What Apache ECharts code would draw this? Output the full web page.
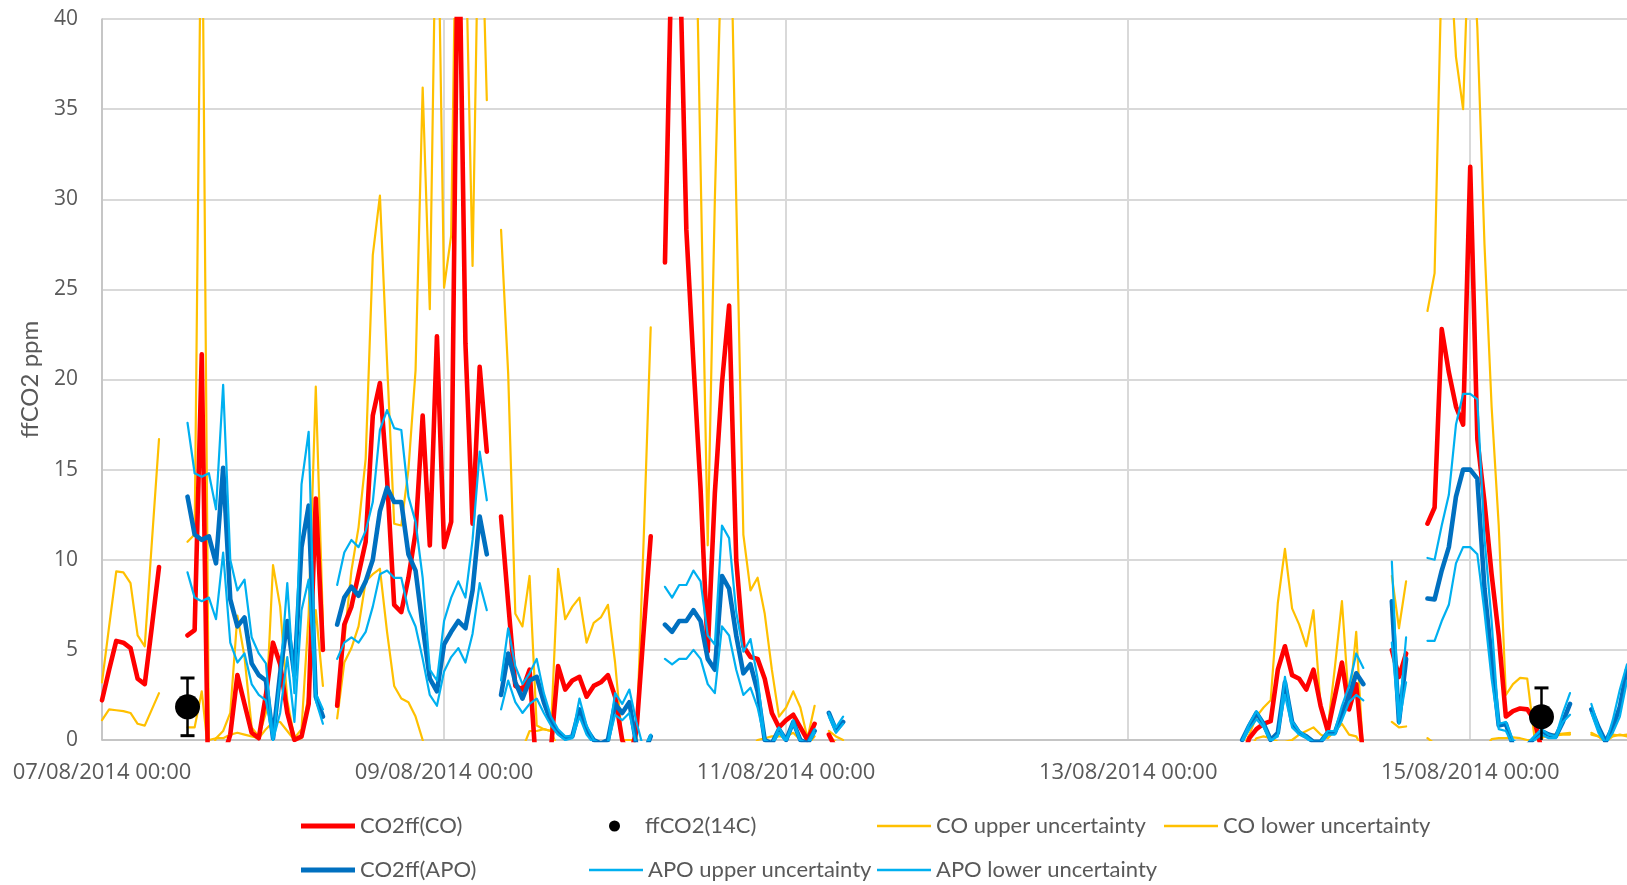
<!DOCTYPE html>
<html>
<head>
<meta charset="utf-8">
<title>ffCO2</title>
<script src="https://cdn.jsdelivr.net/npm/echarts@6/dist/echarts.min.js"></script>
<style>
  html, body { margin: 0; padding: 0; background: #fff; }
  #chart { width: 1627px; height: 885px; }
</style>
</head>
<body>
<div id="chart"></div>
<script>
const _ = null;

// hourly values from 07/08/2014 00:00, one row per day (24 h)
const co2ffCO = [
  2.2, 3.9, 5.5, 5.4, 5.1, 3.4, 3.1, 6.3, 9.6, _, _, _, 5.8, 6.1, 21.4, -5, -3, -1, 0.3, 3.6, 2.0, 0.4, 0.1, 2.5,
  5.4, 4.2, 1.5, 0, 0.2, 2, 13.4, 5.0, _, 1.9, 6.4, 7.4, 9.2, 11, 18, 19.8, 14.5, 7.5, 7.1, 9, 11.5, 18, 10.8, 22.4,
  10.7, 12.1, 48, 22, 12, 20.7, 16, _, 12.4, 7.6, 3.0, 2.8, 3.9, -2, -2, -0.5, 4.1, 2.8, 3.3, 3.5, 2.4, 3.0, 3.2, 3.6,
  2.4, 0, -1, 0.5, 6, 11.3, _, 26.5, 45, 45, 28.3, 20.9, 13.9, 4.9, 13.7, 19.8, 24.1, 10, 5.2, 4.6, 4.5, 3.4, 1.5, 0.7,
  1.1, 1.4, 0.7, 0, 0.9, _, 0.3, -0.5, _, _, _, _, _, _, _, _, _, _, _, _, _, _, _, _,
  _, _, _, _, _, _, _, _, _, _, _, _, _, _, _, _, _, _, _, _, _, _, _, _,
  _, _, _, _, _, _, _, _, _, _, _, _, _, _, _, _, -1, 0.1, 0.6, 0.9, 1.05, 3.9, 5.2, 3.6,
  3.4, 2.8, 3.9, 1.9, 0.5, 2.4, 4.3, 1.7, 3.1, -1, _, _, _, 5.0, 3.5, 4.8, _, _, 12.0, 12.9, 22.8, 20.4, 18.5, 17.5,
  31.8, 16.7, 13.2, 9.2, 5.8, 1.3, 1.6, 1.75, 1.7, 1.1, -0.5, _, _, _, _, _, _, _, _, _, _, _, _
];

const co2ffAPO = [
  _, _, _, _, _, _, _, _, _, _, _, _, 13.5, 11.4, 11.1, 11.3, 9.8, 15.1, 7.8, 6.3, 6.8, 4.25, 3.6, 3.3,
  0.1, 3.7, 6.6, 3.6, 10.7, 13, 2.4, 1.3, _, 6.4, 7.9, 8.5, 8.0, 8.8, 10, 12.7, 14, 13.2, 13.2, 10.3, 9.4, 6.3, 3.4, 2.7,
  5.3, 6.0, 6.6, 6.2, 8.3, 12.4, 10.3, _, 2.5, 4.8, 3.2, 2.3, 3.3, 3.5, 2.1, 1.0, 0.4, 0.1, 0.2, 1.7, 0.6, 0, -0.2, 0,
  2, 1.5, 2.1, -0.3, -0.8, 0.2, _, 6.4, 6.0, 6.6, 6.6, 7.2, 6.6, 4.5, 3.9, 9.1, 8.4, 5.8, 3.7, 4.2, 2.7, 0, -0.2, 0.6,
  0, 1, 0, -0.2, 0.5, _, 1.5, 0.55, 1.0, _, _, _, _, _, _, _, _, _, _, _, _, _, _, _,
  _, _, _, _, _, _, _, _, _, _, _, _, _, _, _, _, _, _, _, _, _, _, _, _,
  _, _, _, _, _, _, _, _, _, _, _, _, _, _, _, _, 0, 0.8, 1.5, 0.9, 0, 0.4, 3.2, 1.0,
  0.4, 0.2, -0.1, -0.1, 0.4, 0.4, 1.5, 2.4, 3.7, 3.1, _, _, _, 7.7, 1.0, 4.5, _, _, 7.85, 7.8, 9.4, 10.7, 13.5, 15,
  15, 14.5, 8.4, 4.5, 0.8, 0.9, -0.3, -0.5, -0.3, 0.1, 0.5, 0.3, 0.2, 1.0, 2.0, _, _, 1.7, 0.7, -0.1, 0.7, 1.85, 3.9
];

const apoUpper = [
  _, _, _, _, _, _, _, _, _, _, _, _, 17.6, 14.8, 14.6, 14.8, 12.8, 19.7, 10, 8.3, 8.9, 5.7, 4.8, 4.25,
  0, 3.5, 8.7, 2.6, 14.2, 17.1, 2.6, 1.7, _, 8.6, 10.4, 11.1, 10.7, 11.6, 13.2, 17.2, 18.3, 17.3, 17.2, 13.5, 12.1, 9, 3.9, 3.3,
  6.6, 7.9, 8.8, 7.9, 11.1, 16, 13.3, _, 3.3, 6.2, 4.1, 3.1, 3.7, 4.5, 2.6, 1.3, 0.6, 0.2, 0.2, 2.3, 0.8, 0, -0.2, -0.1,
  2.6, 2.0, 2.8, 1.0, -0.5, 0.3, _, 8.5, 7.9, 8.6, 8.6, 9.4, 8.8, 5.8, 5.3, 11.9, 11.2, 7.1, 4.9, 5.6, 3.4, 0, -0.2, 0.7,
  0, 1.1, 0, -0.2, 0.6, _, 1.5, 0.7, 1.3, _, _, _, _, _, _, _, _, _, _, _, _, _, _, _,
  _, _, _, _, _, _, _, _, _, _, _, _, _, _, _, _, _, _, _, _, _, _, _, _,
  _, _, _, _, _, _, _, _, _, _, _, _, _, _, _, _, 0, 0.9, 1.6, 0.9, 0, 0.2, 3.5, 1.05,
  0.5, 0.2, -0.1, -0.1, 0.5, 0.5, 1.9, 3.0, 4.8, 4.0, _, _, _, 9.9, 1.1, 5.7, _, _, 10.1, 10.0, 11.9, 13.6, 17.5, 19.2,
  19.2, 18.9, 11.2, 6.6, 0.9, 1.0, 0, -0.3, -0.2, 0.2, 0.6, 0.3, 0.2, 1.5, 2.6, _, _, 2.0, 0.7, -0.2, 1.1, 2.8, 4.2
];

const apoLower = [
  _, _, _, _, _, _, _, _, _, _, _, _, 9.3, 7.9, 7.7, 7.9, 6.7, 10.4, 5.4, 4.3, 4.8, 3.1, 2.5, 2.2,
  0, 1.5, 4.6, 1.0, 7.2, 8.9, 2.2, 0.9, _, 4.5, 5.4, 5.7, 5.4, 6.0, 7.4, 9.2, 9.4, 9.0, 9.0, 7.2, 6.3, 4.5, 2.5, 1.9,
  3.8, 4.6, 5.1, 4.3, 5.9, 8.7, 7.2, _, 1.7, 3.3, 2.1, 1.5, 2.0, 2.3, 1.5, 0.8, 0.3, 0, 0.1, 1.3, 0.3, -0.2, -0.3, -0.2,
  1.4, 1.1, 1.5, -0.3, -1, 0.2, _, 4.5, 4.2, 4.5, 4.5, 5.0, 4.5, 3.1, 2.6, 6.3, 5.8, 3.9, 2.5, 2.9, 1.8, 0, -0.3, 0.4,
  -0.1, 0.9, -0.1, -0.3, 0.4, _, 1.3, 0.4, 0.9, _, _, _, _, _, _, _, _, _, _, _, _, _, _, _,
  _, _, _, _, _, _, _, _, _, _, _, _, _, _, _, _, _, _, _, _, _, _, _, _,
  _, _, _, _, _, _, _, _, _, _, _, _, _, _, _, _, -0.1, 0.6, 1.15, 0.7, -0.1, 0.3, 2.5, 0.7,
  0.3, 0.1, -0.2, -0.2, 0.3, 0.3, 1.1, 2.1, 2.5, 2.2, _, _, _, 5.4, 0.9, 3.2, _, _, 5.5, 5.5, 6.6, 7.5, 9.8, 10.7,
  10.7, 10.3, 7.1, 3.4, 0.6, 0.5, -0.3, -0.5, -0.4, 0, 0.3, 0.1, 0.1, 1.0, 1.4, _, _, 1.5, 0.4, -0.2, 0.4, 1.3, 3.3
];

const coUpper = [
  3.2, 6.3, 9.35, 9.3, 8.7, 5.8, 5.2, 11, 16.7, _, _, _, 11, 11.4, 50, 0, 0.1, 0.5, 1.5, 6.9, 4.6, 0.7, 0.2, 1.5,
  9.7, 7.4, 2.2, 0.1, 0.6, 7.0, 19.6, 6.5, _, 2.5, 5.5, 9.4, 11.8, 15.6, 26.9, 30.2, 21, 12.0, 11.9, 15, 20.5, 36.2, 23.9, 50,
  25.1, 28, 55, 45, 26.3, 50, 35.5, _, 28.3, 20.3, 7.0, 6.3, 9.1, 0.8, 0.6, 0.5, 9.5, 6.7, 7.4, 7.9, 5.4, 6.5, 6.8, 7.5,
  4.3, 0, 0, 0, 11, 22.9, _, 60, 60, 60, 55, 53, 31.7, 10.8, 30, 45, 50, 30, 11.4, 8.3, 9.0, 7.0, 3.9, 1.3,
  1.8, 2.7, 1.8, 0.1, 1.9, _, 0.5, 0.2, 0, _, _, _, _, _, _, _, _, _, _, _, _, _, _, _,
  _, _, _, _, _, _, _, _, _, _, _, _, _, _, _, _, _, _, _, _, _, _, _, _,
  _, _, _, _, _, _, _, _, _, _, _, _, _, _, _, _, -0.5, 0.3, 1.3, 1.8, 2.2, 7.6, 10.6, 7.3,
  6.4, 5.2, 7.2, 1.9, 0.6, 4.0, 7.7, 1.9, 6.0, -1, _, _, _, 9.1, 6.2, 8.8, _, _, 23.8, 25.9, 43, 45, 37.9, 35,
  46.9, 39.5, 27.5, 18.5, 11.9, 2.5, 3.1, 3.45, 3.4, 0.2, 0.1, 0.3, 0.3, 0.35, 0.4, _, _, 0.4, 0.2, -0.1, 0.2, 0.3, 0.2
];

const coLower = [
  1.1, 1.7, 1.65, 1.6, 1.5, 0.9, 0.8, 1.7, 2.6, _, _, _, 0.7, 0.7, 2.7, -1, 0.1, 0.1, 0.3, 0.4, 0.3, 0.2, 0.1, 0.6,
  1.0, 1.0, 0.5, 0, 0.1, 2.6, 7.2, 3.0, _, 1.2, 4.3, 5.1, 6.3, 8.8, 9.2, 9.5, 6, 3.0, 2.3, 2.1, 1.3, 0, -2, -3,
  -3, -3, -3, -3, -3, -3, -3, _, -1, -1, -1, -0.5, 0.5, 0.5, 0.6, 0.5, -0.5, -0.5, -0.5, -0.5, -0.5, -0.5, -0.5, -0.5,
  -0.5, -1, -1, -1, -1, -0.5, _, -5, -5, -5, -5, -5, -5, -5, -5, -5, -5, -5, -5, -0.5, 0, 0.1, 0.2, 0.2,
  0.2, 0.4, 0, -0.3, 0.2, _, 0.2, -0.1, -0.2, _, _, _, _, _, _, _, _, _, _, _, _, _, _, _,
  _, _, _, _, _, _, _, _, _, _, _, _, _, _, _, _, _, _, _, _, _, _, _, _,
  _, _, _, _, _, _, _, _, _, _, _, _, _, _, _, _, -1, -0.5, 0.1, 0.2, 0.1, -0.1, -0.1, 0,
  0.3, 0.5, 0.7, 0.3, 0.1, 0.5, 0.9, 0.3, 0.2, -0.5, _, _, _, 1.0, 0.7, 0.75, _, _, 0.1, -0.2, -1, -1, -1, -1,
  -1, -1, -0.5, 0.05, 0.1, 0.1, 0.15, 0.1, 0, 0, 0.2, 0.3, 0.25, 0.3, 0.3, _, _, 0.3, 0.2, -0.1, 0.3, 0.25, 0.3
];

// 14C samples: hour index, value, +/- uncertainty
const c14Hours = [12, 202];
const c14Values = [1.84, 1.29];
const c14Errors = [1.6, 1.6];

// hourly categories
const startTime = new Date(2014, 7, 7, 0, 0);
const pad = (n) => String(n).padStart(2, '0');
const categories = co2ffCO.map((v, i) => {
  const d = new Date(startTime.getTime() + i * 3600 * 1000);
  return pad(d.getDate()) + '/' + pad(d.getMonth() + 1) + '/' + d.getFullYear() + ' ' + pad(d.getHours()) + ':00';
});

const RED = '#FF0000', DARKBLUE = '#0070C0', LIGHTBLUE = '#00B0F0', YELLOW = '#FFC000';
const FONT = 'Lato';
const TICKFONT = 'Open Sans';
const TXT = '#595959';

function lineSeries(name, data, color, width, z) {
  return {
    name: name,
    type: 'line',
    data: data,
    color: color,
    symbol: 'none',
    connectNulls: false,
    clip: true,
    z: z,
    lineStyle: { color: color, width: width, cap: 'round', join: 'round' }
  };
}

function legendItem(name, left, top, iconH, extra) {
  return Object.assign({
    data: [name],
    left: left,
    top: top,
    icon: 'rect',
    itemWidth: 54,
    itemHeight: iconH,
    padding: 0,
    selectedMode: false,
    textStyle: { color: TXT, fontSize: 22, fontFamily: FONT, lineHeight: 26 }
  }, extra || {});
}

const chart = echarts.init(document.getElementById('chart'));

const option = {
  animation: false,
  backgroundColor: '#fff',
  grid: { left: 102, right: 0, top: 19, bottom: 145 },
  legend: [
    legendItem('CO2ff(CO)', 301, 813, 5),
    legendItem('ffCO2(14C)', 609, 813, 14, {
      icon: 'circle', itemWidth: 11,
      textStyle: { color: TXT, fontSize: 22, fontFamily: FONT, lineHeight: 26, padding: [0, 0, 0, 20] }
    }),
    legendItem('CO upper uncertainty', 877, 813, 2.5),
    legendItem('CO lower uncertainty', 1164, 813, 2.5),
    legendItem('CO2ff(APO)', 301, 857, 5),
    legendItem('APO upper uncertainty', 589, 857, 2.5),
    legendItem('APO lower uncertainty', 877, 857, 2.5)
  ],
  xAxis: {
    type: 'category',
    data: categories,
    boundaryGap: false,
    axisLine: { lineStyle: { color: '#BFBFBF', width: 1.5 } },
    axisTick: { show: false },
    axisLabel: {
      interval: (i) => i % 48 === 0,
      color: TXT, fontSize: 22, fontFamily: TICKFONT, margin: 22
    },
    splitLine: {
      show: true,
      interval: (i) => i % 48 === 0,
      lineStyle: { color: '#D9D9D9', width: 2 }
    }
  },
  yAxis: {
    type: 'value',
    min: 0,
    max: 40,
    interval: 5,
    name: 'ffCO2 ppm',
    nameLocation: 'middle',
    nameGap: 60,
    nameTextStyle: { color: TXT, fontSize: 24, fontFamily: FONT },
    axisLine: { show: true, lineStyle: { color: '#BFBFBF', width: 1.5 } },
    axisTick: { show: false },
    axisLabel: { color: TXT, fontSize: 21, fontFamily: TICKFONT, margin: 24 },
    splitLine: { lineStyle: { color: '#D9D9D9', width: 2 } }
  },
  series: [
    lineSeries('CO upper uncertainty', coUpper, YELLOW, 2.2, 1),
    lineSeries('CO lower uncertainty', coLower, YELLOW, 2.2, 1),
    lineSeries('CO2ff(CO)', co2ffCO, RED, 4.6, 2),
    lineSeries('CO2ff(APO)', co2ffAPO, DARKBLUE, 4.6, 3),
    lineSeries('APO upper uncertainty', apoUpper, LIGHTBLUE, 2.2, 4),
    lineSeries('APO lower uncertainty', apoLower, LIGHTBLUE, 2.2, 4),
    {
      // error bars of the 14C samples
      name: 'c14err',
      type: 'custom',
      clip: true,
      z: 5,
      data: c14Hours.map((h, i) => [h, c14Values[i], c14Errors[i]]),
      encode: { x: 0, y: 1 },
      renderItem: function (params, api) {
        const x = api.value(0), y = api.value(1), e = api.value(2);
        const top = api.coord([x, y + e]);
        const bot = api.coord([x, y - e]);
        const hw = 7;
        const st = { stroke: '#000', lineWidth: 3 };
        return {
          type: 'group',
          children: [
            { type: 'line', shape: { x1: top[0], y1: top[1], x2: bot[0], y2: bot[1] }, style: { stroke: '#000', lineWidth: 2.5 } },
            { type: 'line', shape: { x1: top[0] - hw, y1: top[1], x2: top[0] + hw, y2: top[1] }, style: st },
            { type: 'line', shape: { x1: bot[0] - hw, y1: bot[1], x2: bot[0] + hw, y2: bot[1] }, style: st }
          ]
        };
      }
    },
    {
      name: 'ffCO2(14C)',
      type: 'scatter',
      color: '#000',
      symbolSize: 25,
      z: 6,
      itemStyle: { color: '#000', opacity: 1 },
      data: c14Hours.map((h, i) => [h, c14Values[i]])
    }
  ]
};

chart.setOption(option);
</script>
</body>
</html>
